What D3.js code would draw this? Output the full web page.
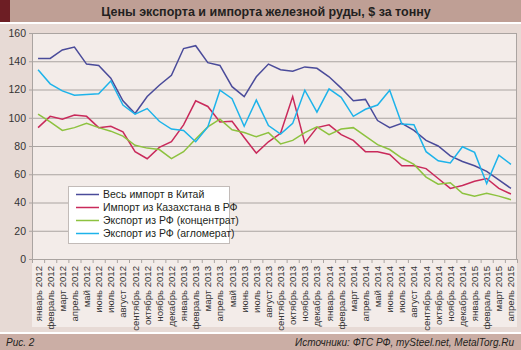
<!DOCTYPE html>
<html>
<head>
<meta charset="utf-8">
<script src="https://cdn.jsdelivr.net/npm/d3@7"></script>
<style>
  html, body { margin: 0; padding: 0; background: #fff; }
  svg { display: block; font-family: "Liberation Sans", Arial, sans-serif; }
</style>
</head>
<body>
<svg id="chart" width="521" height="350"></svg>
<script>
// Месяцы по оси X
const months = [
  "январь 2012","февраль 2012","март 2012","апрель 2012","май 2012","июнь 2012",
  "июль 2012","август 2012","сентябрь 2012","октябрь 2012","ноябрь 2012","декабрь 2012",
  "январь 2013","февраль 2013","март 2013","апрель 2013","май 2013","июнь 2013",
  "июль 2013","август 2013","сентябрь 2013","октябрь 2013","ноябрь 2013","декабрь 2013",
  "январь 2014","февраль 2014","март 2014","апрель 2014","май 2014","июнь 2014",
  "июль 2014","август 2014","сентябрь 2014","октябрь 2014","ноябрь 2014","декабрь 2014",
  "январь 2015","февраль 2015","март 2015","апрель 2015"
];

// Цены, $ за тонну
const chinaImport = [
  142, 142, 148, 150, 138, 137, 128, 112, 103, 115, 123, 130,
  149, 151, 139, 137, 122, 115, 129, 138, 134, 133, 136, 135,
  129, 121, 112, 113, 98, 93, 96, 91, 84, 80, 73, 69,
  66, 62, 56, 50
];
const kazImport = [
  93, 101, 99, 102, 101, 93, 94, 90, 76, 71, 79, 83,
  95, 112, 108, 97, 97.5, 86, 75, 83, 89, 115, 82, 93,
  95, 88, 84, 76, 76, 74, 66, 66, 64, 57, 50, 52,
  55, 57, 50, 46
];
const rfConcentrate = [
  102.5, 97, 91, 93, 96, 93, 90.5, 87, 80.5, 78.5, 77.5, 71,
  76, 85, 93.5, 99, 91.5, 89.5, 86.5, 89.5, 81.5, 84, 89.5, 93.5,
  88, 92, 93, 87, 81, 77.5, 71.5, 67, 58, 53, 54, 46.5,
  44.5, 46.5, 44.5, 42
];
const rfSinter = [
  134, 124, 119, 116, 116.5, 117, 126, 109, 102.5, 106.5, 97.5, 92,
  91, 83, 93.5, 119.5, 113.5, 94, 112.5, 94.5, 88.5, 96, 119.5, 104,
  120.5, 114.5, 101, 106, 109, 119.5, 95.5, 95, 76, 69.5, 68, 79.5,
  75.5, 53.5, 73.5, 67
];

const yTicks = [0, 20, 40, 60, 80, 100, 120, 140, 160];

const series = [
  { name: "Весь импорт в Китай", values: chinaImport, color: "#4a4b9a" },
  { name: "Импорт из Казахстана в РФ", values: kazImport, color: "#c92a5b" },
  { name: "Экспорт из РФ (концентрат)", values: rfConcentrate, color: "#8dc23f" },
  { name: "Экспорт из РФ (агломерат)", values: rfSinter, color: "#1db3ea" }
];

const svg = d3.select("#chart");
const W = 521, H = 350;
const plot = { left: 32, right: 517, top: 33, bottom: 259 };

// Рамки и фон
svg.append("rect").attr("x", 0).attr("y", 0).attr("width", W).attr("height", H).attr("fill", "#ffffff");
svg.append("rect").attr("x", 0).attr("y", 0).attr("width", W).attr("height", 22).attr("fill", "#bf9f95");
svg.append("rect").attr("x", 0).attr("y", 0).attr("width", 10).attr("height", 22).attr("fill", "#6d1e24");
svg.append("rect").attr("x", 0).attr("y", 24).attr("width", W).attr("height", 308).attr("fill", "#e7dad5");
svg.append("rect").attr("x", plot.left).attr("y", plot.top)
  .attr("width", plot.right - plot.left).attr("height", 294).attr("fill", "#f3ece9");
svg.append("rect").attr("x", 0).attr("y", 334).attr("width", W).attr("height", 16).attr("fill", "#cbaea5");

svg.append("text")
  .attr("x", 266).attr("y", 15.5)
  .attr("text-anchor", "middle")
  .attr("font-size", 12.5).attr("font-weight", "bold").attr("fill", "#231f20")
  .text("Цены экспорта и импорта железной руды, $ за тонну");

svg.append("text")
  .attr("x", 6).attr("y", 346)
  .attr("font-size", 10).attr("font-style", "italic").attr("fill", "#231f20")
  .text("Рис. 2");
svg.append("text")
  .attr("x", 514).attr("y", 346)
  .attr("text-anchor", "end")
  .attr("font-size", 10).attr("font-style", "italic").attr("fill", "#231f20")
  .text("Источники: ФТС РФ, mySteel.net, MetalTorg.Ru");

// Шкалы
const x = d3.scaleBand().domain(months).range([plot.left, plot.right]);
const xc = m => x(m) + x.bandwidth() / 2;
const y = d3.scaleLinear().domain([0, 160]).range([plot.bottom, plot.top]);

// Сетка и ось Y
const yAxis = d3.axisLeft(y).tickValues(yTicks).tickSize(-(plot.right - plot.left) - 3).tickPadding(3);
const gy = svg.append("g").attr("transform", `translate(${plot.left - 3},0)`).call(yAxis);
gy.select(".domain").remove();
gy.selectAll(".tick line").attr("stroke", "#aaa4a1").attr("stroke-width", 1).attr("transform", "translate(0,0)");
gy.selectAll(".tick text").attr("font-size", 10.5).attr("fill", "#333").attr("font-family", "Liberation Sans, Arial, sans-serif");

svg.append("line")
  .attr("x1", plot.left + 0.5).attr("x2", plot.left + 0.5)
  .attr("y1", plot.top).attr("y2", plot.bottom)
  .attr("stroke", "#aaa4a1");
svg.append("line")
  .attr("x1", plot.right - 0.5).attr("x2", plot.right - 0.5)
  .attr("y1", plot.top).attr("y2", plot.bottom)
  .attr("stroke", "#aaa4a1");

// Ось X: деления по границам месяцев, подписи по центру
const gx = svg.append("g").attr("transform", `translate(0,${plot.bottom})`);
gx.selectAll("line.sep")
  .data(months.concat(["__end"]))
  .join("line")
  .attr("class", "sep")
  .attr("x1", (d, i) => (i < months.length ? x(d) : plot.right) + 0.5)
  .attr("x2", (d, i) => (i < months.length ? x(d) : plot.right) + 0.5)
  .attr("y1", 0).attr("y2", 4)
  .attr("stroke", "#aaa4a1");
gx.selectAll("text")
  .data(months)
  .join("text")
  .attr("transform", d => `translate(${xc(d) + 3.5},7) rotate(-90)`)
  .attr("text-anchor", "end")
  .attr("font-size", 9.6).attr("fill", "#333")
  .text(d => d);

// Линии рядов
const line = d3.line().x((d, i) => xc(months[i])).y(d => y(d));
svg.append("g").selectAll("path")
  .data(series)
  .join("path")
  .attr("d", s => line(s.values))
  .attr("fill", "none")
  .attr("stroke", s => s.color)
  .attr("stroke-width", 1.5)
  .attr("stroke-linejoin", "miter");

// Легенда
const lg = svg.append("g").attr("transform", "translate(68,186)");
lg.append("rect").attr("x", 0.5).attr("y", 0.5).attr("width", 161).attr("height", 57)
  .attr("fill", "#ffffff").attr("stroke", "#c2bbb8");
const item = lg.selectAll("g.item").data(series).join("g")
  .attr("class", "item")
  .attr("transform", (d, i) => `translate(0,${8.5 + i * 13})`);
item.append("line").attr("x1", 8).attr("x2", 31).attr("y1", 0).attr("y2", 0)
  .attr("stroke", d => d.color).attr("stroke-width", 1.5);
item.append("text").attr("x", 35).attr("y", 3.8)
  .attr("font-size", 10.5).attr("fill", "#231f20")
  .text(d => d.name);
</script>
</body>
</html>
